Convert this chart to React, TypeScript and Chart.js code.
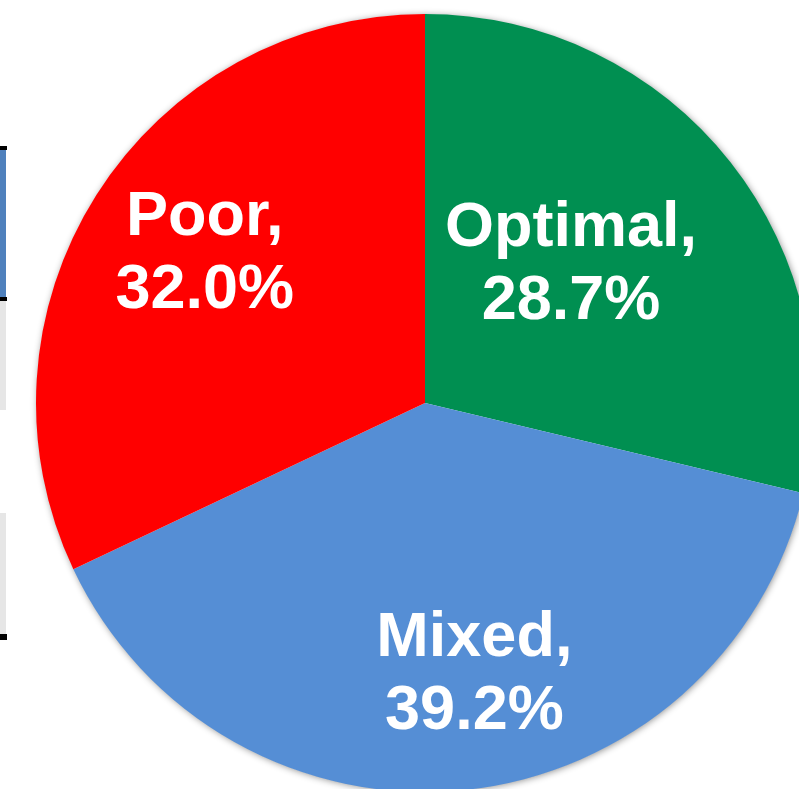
import React, { useEffect, useRef } from "react";
import { Chart, registerables } from "chart.js";

Chart.register(...registerables);

const categories = ["Optimal", "Mixed", "Poor"];
const shares = [28.7, 39.2, 32.0];
const sliceColors = ["#008F51", "#558ED5", "#FF0000"];

// label placement relative to each slice's mid-angle (degrees) and radius fraction
const labelAngleShift = [-6.1, -4.5, 2.5];
const labelRadiusFrac = [0.525, 0.7, 0.69];

const shadowPlugin = {
  id: "pieShadow",
  beforeDatasetsDraw(chart: any) {
    const arc = chart.getDatasetMeta(0).data[0];
    if (!arc) return;
    const { x, y, outerRadius } = arc.getProps(["x", "y", "outerRadius"], true);
    const ctx = chart.ctx;
    ctx.save();
    ctx.shadowColor = "rgba(0,0,0,0.45)";
    ctx.shadowBlur = 7;
    ctx.shadowOffsetX = 1;
    ctx.shadowOffsetY = 1;
    ctx.fillStyle = "#ffffff";
    ctx.beginPath();
    ctx.arc(x, y, outerRadius - 0.5, 0, Math.PI * 2);
    ctx.fill();
    ctx.restore();
  },
};

const labelPlugin = {
  id: "sliceLabels",
  afterDatasetsDraw(chart: any) {
    const ctx = chart.ctx;
    const meta = chart.getDatasetMeta(0);
    ctx.save();
    ctx.fillStyle = "#ffffff";
    ctx.font = "bold 63px 'Liberation Sans', Arial, sans-serif";
    ctx.textAlign = "center";
    ctx.textBaseline = "alphabetic";
    meta.data.forEach((el: any, i: number) => {
      const p = el.getProps(["x", "y", "startAngle", "endAngle", "outerRadius"], true);
      const mid = (p.startAngle + p.endAngle) / 2 + (labelAngleShift[i] * Math.PI) / 180;
      const r = p.outerRadius * labelRadiusFrac[i];
      const cx = p.x + Math.cos(mid) * r;
      const cy = p.y + Math.sin(mid) * r;
      const line1 = categories[i] + ",";
      const line2 = shares[i].toFixed(1) + "%";
      const cap = 44;
      const lh = 73;
      const top = cy - (cap + lh) / 2;
      ctx.fillText(line1, cx, top + cap);
      ctx.fillText(line2, cx, top + cap + lh);
    });
    ctx.restore();
  },
};

export default function App() {
  const ref = useRef<HTMLCanvasElement | null>(null);
  useEffect(() => {
    document.body.style.margin = "0";
    const canvas = ref.current;
    if (!canvas) return;
    const chart = new Chart(canvas, {
      type: "pie",
      data: {
        labels: categories,
        datasets: [
          {
            data: shares,
            backgroundColor: sliceColors,
            borderWidth: 0,
          },
        ],
      },
      options: {
        responsive: false,
        animation: false,
        radius: 389,
        layout: { padding: 0 },
        plugins: {
          legend: { display: false },
          tooltip: { enabled: false },
        },
      } as any,
      plugins: [shadowPlugin, labelPlugin],
    });
    return () => chart.destroy();
  }, []);

  const strip = (top: number, height: number, color: string, width = 6) => (
    <div
      style={{
        position: "absolute",
        left: 0,
        top,
        width,
        height,
        background: color,
      }}
    />
  );

  return (
    <div
      style={{
        position: "fixed",
        left: 0,
        top: 0,
        width: 799,
        height: 789,
        overflow: "hidden",
        background: "#ffffff",
      }}
    >
      {strip(150, 148, "#4F81BD")}
      {strip(301, 109, "#E6E6E6")}
      {strip(513, 121, "#E6E6E6")}
      {strip(146, 4, "#000000", 7)}
      {strip(297, 4, "#000000", 7)}
      {strip(634, 6, "#000000", 7)}
      <canvas
        ref={ref}
        width={850}
        height={806}
        style={{ position: "absolute", left: 0, top: 0, width: 850, height: 806 }}
      />
    </div>
  );
}
